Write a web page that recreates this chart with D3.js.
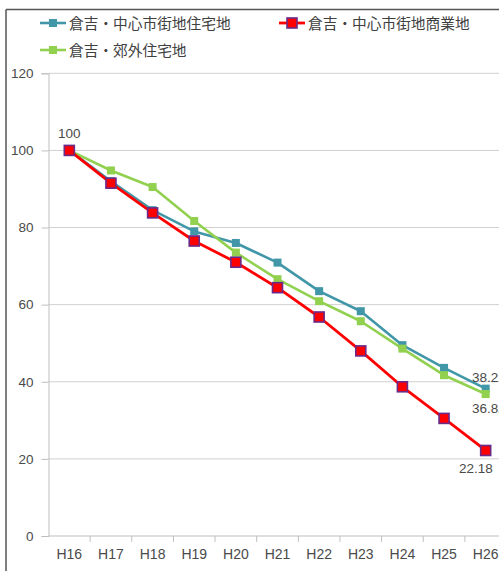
<!DOCTYPE html>
<html>
<head>
<meta charset="utf-8">
<script src="https://cdn.jsdelivr.net/npm/d3@7"></script>
<style>
  html, body { margin: 0; padding: 0; background: #fff; }
  svg { display: block; }
  text { font-family: "Liberation Sans", "Noto Sans CJK JP", sans-serif; fill: #4a4a4a; }
  .jp { font-family: "Noto Sans CJK JP", sans-serif; fill: #404040; }
</style>
</head>
<body>
<script>
// Land price index (H16 = 100), Kurayoshi
const years = ["H16","H17","H18","H19","H20","H21","H22","H23","H24","H25","H26"];
const centralResidential = [100, 92.0, 84.5, 79.0, 76.0, 70.9, 63.5, 58.3, 49.5, 43.6, 38.22];
const centralCommercial  = [100, 91.5, 83.8, 76.5, 71.0, 64.4, 56.8, 48.0, 38.7, 30.5, 22.18];
const suburbanResidential = [100, 94.8, 90.5, 81.7, 73.5, 66.6, 60.9, 55.7, 48.6, 41.7, 36.82];
const yTicks = [0, 20, 40, 60, 80, 100, 120];

const seriesNames = ["倉吉・中心市街地住宅地", "倉吉・中心市街地商業地", "倉吉・郊外住宅地"];

const W = 499, H = 571;
const svg = d3.select("body").append("svg").attr("width", W).attr("height", H);

const x = d3.scaleBand().domain(years).range([48.5, 506.5]);
const y = d3.scaleLinear().domain([0, 120]).range([536, 73.3]);

// outer frame (top and left edges)
svg.append("line").attr("x1", 6).attr("x2", W).attr("y1", 9.5).attr("y2", 9.5)
  .attr("stroke", "#555").attr("stroke-width", 1.5);
svg.append("line").attr("x1", 6).attr("x2", 6).attr("y1", 9.5).attr("y2", H)
  .attr("stroke", "#555").attr("stroke-width", 1.5);

// horizontal gridlines
svg.append("g").selectAll("line").data(yTicks.filter(d => d > 0)).join("line")
  .attr("x1", 48.5).attr("x2", W)
  .attr("y1", d => y(d)).attr("y2", d => y(d))
  .attr("stroke", "#d0d0d0").attr("stroke-width", 1);

// y axis
const yAxis = svg.append("g").attr("transform", "translate(48.5,0)")
  .call(d3.axisLeft(y).tickValues(yTicks).tickSize(7).tickPadding(8));
yAxis.select(".domain").attr("stroke", "#bfbfbf");
yAxis.selectAll(".tick line").attr("stroke", "#bfbfbf");
yAxis.selectAll("text").attr("font-size", 13.5).attr("fill", "#4a4a4a")
  .attr("font-family", "Liberation Sans, sans-serif");

// x axis with tick marks at category boundaries
const xg = svg.append("g");
xg.append("line").attr("x1", 48.5).attr("x2", W).attr("y1", y(0)).attr("y2", y(0))
  .attr("stroke", "#bfbfbf");
xg.selectAll("line.tk").data(years).join("line").attr("class", "tk")
  .attr("x1", d => x(d) + x.bandwidth()).attr("x2", d => x(d) + x.bandwidth())
  .attr("y1", y(0)).attr("y2", y(0) + 6).attr("stroke", "#bfbfbf");
xg.selectAll("text").data(years).join("text")
  .attr("x", d => x(d) + x.bandwidth() / 2).attr("y", y(0) + 23)
  .attr("text-anchor", "middle").attr("font-size", 14).text(d => d);

const cx = d => x(d) + x.bandwidth() / 2;
const line = d3.line().x((v, i) => cx(years[i])).y(v => y(v));

const series = [
  { name: seriesNames[0], values: centralResidential, color: "#4197A8", width: 2.6, size: 8, fill: "#4197A8", stroke: "#4197A8", sw: 0 },
  { name: seriesNames[2], values: suburbanResidential, color: "#92D050", width: 2.6, size: 8, fill: "#92D050", stroke: "#92D050", sw: 0 },
  { name: seriesNames[1], values: centralCommercial, color: "#FF0000", width: 2.8, size: 10, fill: "#FF0000", stroke: "#6A2A8A", sw: 1.6 }
];

series.forEach(s => {
  svg.append("path").datum(s.values).attr("d", line)
    .attr("fill", "none").attr("stroke", s.color).attr("stroke-width", s.width)
    .attr("stroke-linejoin", "round");
  svg.append("g").selectAll("rect").data(s.values).join("rect")
    .attr("x", (v, i) => cx(years[i]) - s.size / 2)
    .attr("y", v => y(v) - s.size / 2)
    .attr("width", s.size).attr("height", s.size)
    .attr("fill", s.fill).attr("stroke", s.stroke).attr("stroke-width", s.sw);
});

// data labels (the last column runs past the right edge of the frame)
const last = years.length - 1;
svg.append("text").attr("x", cx(years[0])).attr("y", y(centralResidential[0]) - 12)
  .attr("text-anchor", "middle").attr("font-size", 13.5).text(centralResidential[0]);
svg.append("text").attr("x", 472).attr("y", y(centralResidential[last]) - 7)
  .attr("font-size", 13.5).text(centralResidential[last].toFixed(2));
svg.append("text").attr("x", 472).attr("y", y(suburbanResidential[last]) + 19)
  .attr("font-size", 13.5).text(suburbanResidential[last].toFixed(2));
svg.append("text").attr("x", cx(years[last]) + 7).attr("y", y(centralCommercial[last]) + 23)
  .attr("text-anchor", "end").attr("font-size", 13.5).text(centralCommercial[last].toFixed(2));

// legend: two entries on the first row, one on the second
const legendPos = [
  { name: seriesNames[0], x: 40, y: 23 },
  { name: seriesNames[1], x: 279, y: 23 },
  { name: seriesNames[2], x: 40, y: 50 }
];
const lg = svg.append("g");
legendPos.forEach(it => {
  const s = series.find(d => d.name === it.name);
  const g = lg.append("g").attr("transform", `translate(${it.x},${it.y})`);
  g.append("line").attr("x1", 0).attr("x2", 26).attr("y1", 0).attr("y2", 0)
    .attr("stroke", s.color).attr("stroke-width", s.width);
  g.append("rect").attr("x", 13 - s.size / 2).attr("y", -s.size / 2)
    .attr("width", s.size).attr("height", s.size)
    .attr("fill", s.fill).attr("stroke", s.stroke).attr("stroke-width", s.sw);
  g.append("text").attr("class", "jp").attr("x", 29).attr("y", 5.5)
    .attr("font-size", 14.7).text(s.name);
});
</script>
</body>
</html>
